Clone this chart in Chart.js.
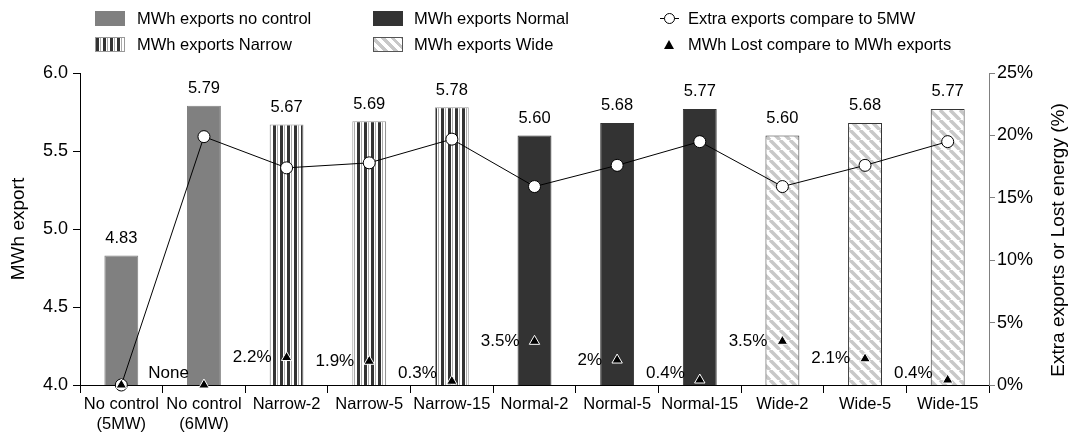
<!DOCTYPE html>
<html>
<head>
<meta charset="utf-8">
<script src="https://cdn.jsdelivr.net/npm/chart.js@4.4.1/dist/chart.umd.min.js"></script>
<style>
  body { margin: 0; background: #fff; font-family: "Liberation Sans", Arial, sans-serif; }
  #wrap { position: relative; width: 1072px; height: 443px; }
  .lg { position: absolute; font-size: 16.5px; color: #000; line-height: 20px; white-space: nowrap; }
  .sw { position: absolute; width: 30px; height: 15px; box-sizing: border-box; }
</style>
</head>
<body>
<div id="wrap">
  <canvas id="exportChart"></canvas>

  <!-- legend, 3 columns x 2 rows like the original -->
  <div class="sw" style="left:95px;top:11px;background:#808080;"></div>
  <div class="lg" style="left:137px;top:8px;">MWh exports no control</div>
  <div class="sw" style="left:95px;top:37px;border:1px solid #999;background:repeating-linear-gradient(90deg,#333 0 3px,#fff 3px 4px,#aaa 4px 5px,#fff 5px 7px);"></div>
  <div class="lg" style="left:137px;top:34px;">MWh exports Narrow</div>

  <div class="sw" style="left:373px;top:11px;background:#333;"></div>
  <div class="lg" style="left:414px;top:8px;">MWh exports Normal</div>
  <div class="sw" style="left:373px;top:37px;border:1px solid #555;background:repeating-linear-gradient(45deg,#c8c8c8 0 3px,#fff 3px 7px);"></div>
  <div class="lg" style="left:414px;top:34px;">MWh exports Wide</div>

  <div style="position:absolute;left:660px;top:18px;width:19px;height:1px;background:#000;"></div>
  <div style="position:absolute;left:664px;top:13px;width:11px;height:11px;box-sizing:border-box;border:1px solid #000;border-radius:50%;background:#fff;"></div>
  <div class="lg" style="left:688px;top:8px;">Extra exports compare to 5MW</div>
  <div style="position:absolute;left:664px;top:40px;width:0;height:0;border-left:5px solid transparent;border-right:5px solid transparent;border-bottom:9px solid #000;"></div>
  <div class="lg" style="left:688px;top:34px;">MWh Lost compare to MWh exports</div>
</div>

<script>
const categories = [['No control', '(5MW)'], ['No control', '(6MW)'], 'Narrow-2', 'Narrow-5', 'Narrow-15',
                    'Normal-2', 'Normal-5', 'Normal-15', 'Wide-2', 'Wide-5', 'Wide-15'];
const groups = ['none', 'none', 'narrow', 'narrow', 'narrow', 'normal', 'normal', 'normal', 'wide', 'wide', 'wide'];
const mwhExport = [4.83, 5.79, 5.67, 5.69, 5.78, 5.60, 5.68, 5.77, 5.60, 5.68, 5.77];
const extraExports = [0, 19.9, 17.4, 17.8, 19.7, 15.9, 17.6, 19.5, 15.9, 17.6, 19.5]; // %
const lostEnergy = [0, 0, 2.2, 1.9, 0.3, 3.5, 2, 0.4, 3.5, 2.1, 0.4]; // %
const lostLabels = ['', 'None', '2.2%', '1.9%', '0.3%', '3.5%', '2%', '0.4%', '3.5%', '2.1%', '0.4%'];
const leftTicks = [4.0, 4.5, 5.0, 5.5, 6.0];
const rightTicks = [0, 5, 10, 15, 20, 25];

const FONT = '"Liberation Sans", Arial, sans-serif';
Chart.defaults.font.family = FONT;
Chart.defaults.color = '#000';

// fill patterns for the bars
function makePattern(w, h, draw) {
    const c = document.createElement('canvas');
    c.width = w; c.height = h;
    const g = c.getContext('2d');
    g.fillStyle = '#fff';
    g.fillRect(0, 0, w, h);
    draw(g);
    return g.createPattern(c, 'repeat');
}
const narrowPattern = makePattern(7, 7, g => {
    g.fillStyle = '#333'; g.fillRect(0, 0, 3, 7);
    g.fillStyle = '#aaa'; g.fillRect(4, 0, 1, 7);
});
const widePattern = makePattern(10, 10, g => {
    g.strokeStyle = '#c8c8c8';
    g.lineWidth = 3.5;
    for (let k = -10; k <= 10; k += 10) {
        g.beginPath(); g.moveTo(k, 0); g.lineTo(k + 10, 10); g.stroke();
    }
});

const fills = { none: '#808080', narrow: narrowPattern, normal: '#333333', wide: widePattern };
const edges = { none: '#808080', narrow: '#999999', normal: '#333333', wide: '#333333' };

const labelPlugin = {
    id: 'valueLabels',
    afterDatasetsDraw(chart) {
        const ctx = chart.ctx;
        ctx.save();
        ctx.fillStyle = '#000';
        ctx.textBaseline = 'middle';
        // bar values
        ctx.font = '16.5px ' + FONT;
        ctx.textAlign = 'center';
        chart.getDatasetMeta(0).data.forEach((b, i) => {
            ctx.fillText(mwhExport[i].toFixed(2), b.x, b.y - 17);
        });
        // lost energy labels, left of triangles
        ctx.font = '17px ' + FONT;
        ctx.textAlign = 'right';
        chart.getDatasetMeta(2).data.forEach((p, i) => {
            if (lostLabels[i]) ctx.fillText(lostLabels[i], p.x - 15, Math.min(p.y, 373));
        });
        // right axis title reads bottom-to-top in the original
        ctx.font = '19px ' + FONT;
        ctx.textAlign = 'center';
        ctx.translate(1059, 240);
        ctx.rotate(-Math.PI / 2);
        ctx.fillText('Extra exports or Lost energy (%)', 0, 0);
        ctx.restore();
    }
};

const ctx = document.getElementById('exportChart').getContext('2d');
new Chart(ctx, {
    data: {
        labels: categories,
        datasets: [{
            type: 'bar',
            data: mwhExport,
            yAxisID: 'y',
            backgroundColor: groups.map(g => fills[g]),
            borderColor: groups.map(g => edges[g]),
            borderWidth: 1,
            barPercentage: 0.41,
            categoryPercentage: 1,
            order: 3
        }, {
            type: 'line',
            data: extraExports,
            yAxisID: 'y2',
            borderColor: '#000',
            borderWidth: 1,
            pointRadius: 6,
            pointBackgroundColor: '#fff',
            pointBorderColor: '#000',
            pointBorderWidth: 1,
            clip: false,
            order: 2
        }, {
            type: 'line',
            data: lostEnergy,
            yAxisID: 'y2',
            showLine: false,
            pointStyle: 'triangle',
            pointRadius: 6,
            pointBackgroundColor: '#000',
            pointBorderColor: '#fff',
            pointBorderWidth: 1,
            clip: false,
            order: 1
        }]
    },
    options: {
        responsive: true,
        maintainAspectRatio: false,
        animation: false,
        layout: { padding: { top: 73, left: 0, right: 0, bottom: 0 } },
        plugins: { legend: { display: false }, tooltip: { enabled: false } },
        scales: {
            x: {
                offset: true,
                grid: { offset: true, drawOnChartArea: false, color: '#000', tickLength: 8 },
                border: { color: '#000' },
                ticks: { color: '#000', font: { size: 16.5 }, maxRotation: 0, autoSkip: false, padding: 2 },
                afterFit(s) { s.height = 58; }
            },
            y: {
                position: 'left',
                min: 4, max: 6,
                afterBuildTicks(s) { s.ticks = leftTicks.map(v => ({ value: v })); },
                ticks: { color: '#000', font: { size: 18 }, padding: 5, callback: v => v.toFixed(1) },
                grid: { drawOnChartArea: false, color: '#000', tickLength: 7 },
                border: { color: '#000' },
                title: { display: true, text: 'MWh export', font: { size: 19 }, padding: { top: 7, bottom: 0 } },
                afterFit(s) { s.width = 80; }
            },
            y2: {
                position: 'right',
                min: 0, max: 25,
                afterBuildTicks(s) { s.ticks = rightTicks.map(v => ({ value: v })); },
                ticks: { color: '#000', font: { size: 18 }, padding: 2, callback: v => v + '%' },
                grid: { drawOnChartArea: false, color: '#808080', tickLength: 6 },
                border: { color: '#808080' },
                afterFit(s) { s.width = 83; }
            }
        }
    },
    plugins: [labelPlugin]
});
</script>
</body>
</html>
